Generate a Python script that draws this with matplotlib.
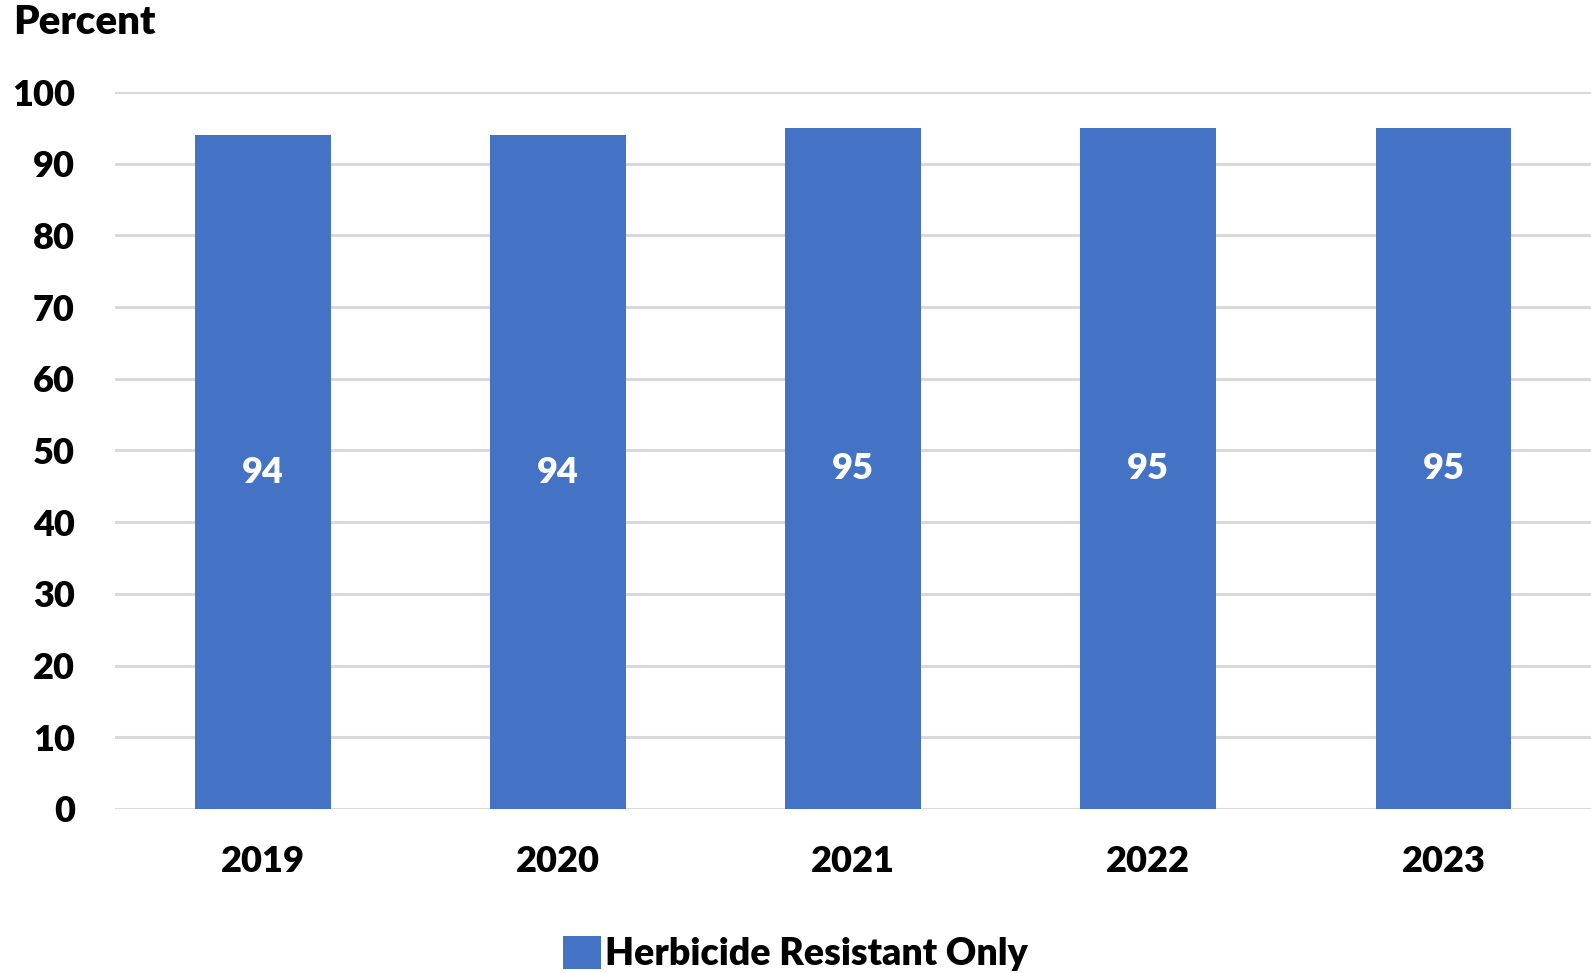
import numpy as np
import matplotlib
matplotlib.use('Agg')
import matplotlib.pyplot as plt
from matplotlib.patches import Patch

years = ['2019', '2020', '2021', '2022', '2023']
herbicide_only = [94, 94, 95, 95, 95]
y_ticks = [0, 10, 20, 30, 40, 50, 60, 70, 80, 90, 100]

blue = '#4472C4'
grid_col = '#D9D9D9'
wt = 'heavy'
fs = 26

plt.rcParams['font.family'] = ['Lato', 'DejaVu Sans']
plt.rcParams['font.weight'] = wt

fig = plt.figure(figsize=(15.91, 9.73), dpi=100)
ax = fig.add_axes([0.0723, 0.1686, 0.9277, 0.7368])

x = np.arange(len(years))
bars = ax.bar(x, herbicide_only, width=0.46, color=blue, zorder=3)

# data labels in the middle of each bar
for xi, v in zip(x, herbicide_only):
    ax.text(xi, v / 2, str(v), ha='center', va='center', color='white',
            fontsize=fs, fontweight=wt, zorder=4)

ax.set_xlim(-0.5, len(years) - 0.5)
ax.set_ylim(0, 100)
ax.set_yticks(y_ticks)
ax.set_xticks(x)
ax.set_xticklabels(years)
ax.tick_params(axis='both', length=0, labelsize=fs)
ax.tick_params(axis='y', pad=29)
ax.tick_params(axis='x', pad=26)
for lbl in ax.get_xticklabels() + ax.get_yticklabels():
    lbl.set_fontweight(wt)

ax.yaxis.grid(True, color=grid_col, linewidth=2.2, zorder=0)
for s in ax.spines.values():
    s.set_visible(False)

fig.text(0.0085, 0.977, 'Percent', ha='left', va='center', fontsize=29,
         fontweight=wt)

handles = [Patch(facecolor=blue, edgecolor='none', label='Herbicide Resistant Only')]
fig.legend(handles=handles, loc='center', bbox_to_anchor=(0.5, 0.02),
           frameon=False, handlelength=1.0, handleheight=1.0,
           handletextpad=0.12, prop={'weight': wt, 'size': 27})

fig.savefig('out.png', dpi=100)
